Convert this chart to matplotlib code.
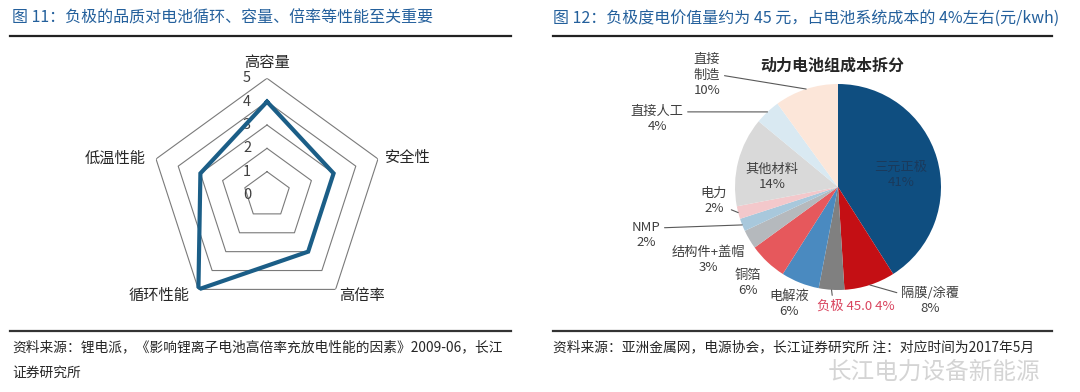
import numpy as np
import matplotlib
matplotlib.use('Agg')
import matplotlib.pyplot as plt
from matplotlib.lines import Line2D

plt.rcParams['font.family'] = ['Noto Sans CJK SC', 'DejaVu Sans']

# ---------------- data ----------------
title_left = '图 11：负极的品质对电池循环、容量、倍率等性能至关重要'
title_right = '图 12：负极度电价值量约为 45 元，占电池系统成本的 4%左右(元/kwh)'
source_left = '资料来源：锂电派，《影响锂离子电池高倍率充放电性能的因素》2009-06，长江'
source_left2 = '证券研究所'
source_right = '资料来源：亚洲金属网，电源协会，长江证券研究所 注：对应时间为2017年5月'
watermark = '长江电力设备新能源'

radar_categories = ['高容量', '安全性', '高倍率', '循环性能', '低温性能']
radar_values = [4, 3, 3, 5, 3]
radar_ticks = [0, 1, 2, 3, 4, 5]

pie_title = '动力电池组成本拆分'
pie_labels = ['三元正极', '隔膜/涂覆', '负极', '电解液', '铜箔', '结构件+盖帽',
              'NMP', '电力', '其他材料', '直接人工', '直接制造']
pie_shares = [41, 8, 4, 6, 6, 3, 2, 2, 14, 4, 10]
anode_cost = 45.0

# ---------------- style / layout ----------------
W, H = 1080, 392
BLUE_TITLE = '#24609c'
TXT = '#262626'
pie_colors = ['#0f4e80', '#c40f14', '#808080', '#4a8ac0', '#e6585c', '#b5b9bd',
              '#a8c8dc', '#f3c8cb', '#d9d9d9', '#d9e9f2', '#fce6d9']


def fx(x):
    return x / W


def fy(y):
    return 1 - y / H


fig = plt.figure(figsize=(W / 100, H / 100), dpi=100)
fig.patch.set_facecolor('white')

# titles and rules
fig.text(fx(12), fy(18), title_left, color=BLUE_TITLE, fontsize=11.5, va='center', ha='left')
fig.text(fx(553), fy(18), title_right, color=BLUE_TITLE, fontsize=11.5, va='center', ha='left')
for x0, x1 in [(10, 511), (553, 1052)]:
    fig.add_artist(Line2D([fx(x0), fx(x1)], [fy(36), fy(36)], color='#222222', lw=1.6))
    fig.add_artist(Line2D([fx(x0), fx(x1)], [fy(331), fy(331)], color='#333333', lw=1.6))

fig.text(fx(12), fy(347), source_left, color=TXT, fontsize=9.9, va='center', ha='left')
fig.text(fx(12), fy(373), source_left2, color=TXT, fontsize=9.9, va='center', ha='left')
fig.text(fx(553), fy(347), source_right, color=TXT, fontsize=9.9, va='center', ha='left')
fig.text(fx(1040), fy(372), watermark, color='#b8b8b8', alpha=0.6, fontsize=17,
         va='center', ha='right')

# ---------------- radar ----------------
cx, cy, R = 267, 195, 116.7
ax = fig.add_axes([fx(cx - R), fy(cy + R), 2 * R / W, 2 * R / H], projection='polar')
ax.set_theta_offset(np.pi / 2)
ax.set_theta_direction(-1)
ax.set_ylim(0, max(radar_ticks))
ax.axis('off')

n = len(radar_categories)
angles = np.linspace(0, 2 * np.pi, n, endpoint=False)
ang_closed = np.append(angles, angles[0])
for lvl in radar_ticks[1:]:
    ax.plot(ang_closed, [lvl] * (n + 1), color='#7a7a7a', lw=0.8, zorder=1)
vals_closed = np.append(radar_values, radar_values[0])
ax.plot(ang_closed, vals_closed, color='#1b5e87', lw=3.0, solid_joinstyle='miter', zorder=3)

for t in radar_ticks:
    ax.annotate(str(t), xy=(0, t), xytext=(-20, 0), textcoords='offset pixels',
                ha='center', va='center', fontsize=10.5, color='#404040',
                annotation_clip=False, zorder=2)

label_offsets = [(0, 16, 'center'), (7, 1, 'left'), (4, -6, 'left'),
                 (-9, -6, 'right'), (-10, 1, 'right')]
for ang, name, (ox, oy, ha) in zip(angles, radar_categories, label_offsets):
    ax.annotate(name, xy=(ang, max(radar_ticks)), xytext=(ox, oy), textcoords='offset pixels',
                ha=ha, va='center', fontsize=11, color=TXT, annotation_clip=False)

# ---------------- pie ----------------
pcx, pcy, PR = 838, 187, 103
pax = fig.add_axes([fx(pcx - PR), fy(pcy + PR), 2 * PR / W, 2 * PR / H])
wedges, _ = pax.pie(pie_shares, colors=pie_colors, startangle=90, counterclock=False,
                    radius=1, wedgeprops=dict(linewidth=0))
pax.set_xlim(-1, 1)
pax.set_ylim(-1, 1)
pax.set_aspect('equal')


def p2d(x, y):
    return ((x - pcx) / PR, (pcy - y) / PR)


pax.text(*p2d(832, 66), pie_title, ha='center', va='center', fontsize=11.5,
         fontweight='bold', color=TXT)

# label placement (pixel centres) and leader anchors (relpos on text box)
label_layout = {
    '三元正极': ((901, 175), None),
    '隔膜/涂覆': ((930, 301), (0, 0.75)),
    '负极': ((856, 306), (0.2, 1.0)),
    '电解液': ((789, 304), None),
    '铜箔': ((748, 283), None),
    '结构件+盖帽': ((708, 260), None),
    'NMP': ((646, 235), (1, 0.75)),
    '电力': ((714, 201), (1, 0.25)),
    '其他材料': ((772, 177), None),
    '直接人工': ((657, 119), (1, 0.75)),
    '直接制造': ((707, 75), (1, 0.5)),
}

for w, name, share in zip(wedges, pie_labels, pie_shares):
    (lx, ly), rel = label_layout[name]
    color = '#404040'
    if name == '负极':
        text = f'{name} {anode_cost:.1f} {share}%'
        color = '#d9455f'
    elif name == '直接制造':
        text = f'直接\n制造\n{share}%'
    else:
        text = f'{name}\n{share}%'
    if name == '三元正极':
        color = '#1a3a5c'
    mid = np.deg2rad((w.theta1 + w.theta2) / 2)
    if rel is None:
        pax.text(*p2d(lx, ly), text, ha='center', va='center', fontsize=9.5,
                 color=color, linespacing=1.25)
    else:
        pax.annotate(text, xy=(np.cos(mid), np.sin(mid)), xytext=p2d(lx, ly),
                     ha='center', va='center', fontsize=9.5, color=color,
                     linespacing=1.25, annotation_clip=False,
                     arrowprops=dict(arrowstyle='-', color='#595959', lw=0.8,
                                     shrinkA=1, shrinkB=0, relpos=rel))

fig.savefig('out.png', dpi=100, facecolor='white')
